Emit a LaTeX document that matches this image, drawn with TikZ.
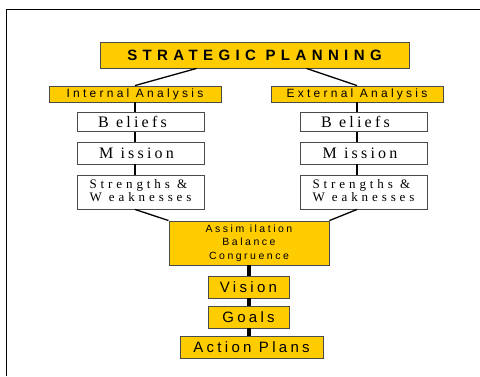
\documentclass[tikz,border=0pt]{standalone}
\usepackage{fontspec}
\setmainfont{Liberation Serif}
\newfontfamily\fsp[LetterSpace=36]{Liberation Sans}
\newfontfamily\fia[LetterSpace=27]{Liberation Sans}
\newfontfamily\fser[LetterSpace=20]{Liberation Serif}
\newfontfamily\fsw[LetterSpace=30]{Liberation Serif}
\newfontfamily\fas[LetterSpace=24]{Liberation Sans}
\newfontfamily\fbig[LetterSpace=22]{Liberation Sans}
\definecolor{ylw}{HTML}{FFCC00}
\definecolor{bord}{HTML}{4A4A4A}
\tikzset{
  ybox/.style={draw=bord, fill=ylw, line width=0.9pt, inner sep=0pt, align=center},
  wbox/.style={draw=bord, fill=white, line width=0.9pt, inner sep=0pt, align=center},
  conn/.style={line width=1.3pt, black},
  thick conn/.style={line width=4pt, black},
  frame/.style={line width=1pt, black},
  spfont/.style={font=\fontsize{15}{17}\selectfont\fsp\bfseries},
  iafont/.style={font=\fontsize{12}{13}\selectfont\fia},
  serfont/.style={font=\fontsize{16}{18}\selectfont\fser},
  swfont/.style={font=\fontsize{13}{15}\selectfont\fsw},
  asfont/.style={font=\fontsize{10.5}{13.5}\selectfont\fas},
  bigfont/.style={font=\fontsize{15}{17}\selectfont\fbig}
}
\begin{document}
\begin{tikzpicture}[x=1pt,y=-1pt]
\useasboundingbox (0,0) rectangle (480,376);
\draw[frame] (6,376) -- (6,9) -- (480,9);
% top
\node[ybox, spfont, minimum width=309pt, minimum height=26pt] (sp) at (254.5,55)
  {STRATEGIC PLANNING};
\node[ybox, iafont, minimum width=172pt, minimum height=16pt] (ia) at (135,94)
  {Internal Analysis};
\node[ybox, iafont, minimum width=172pt, minimum height=16pt] (ea) at (357,94)
  {External Analysis};
% left column
\node[wbox, serfont, minimum width=127pt, minimum height=19pt] (lb) at (140.5,122)
  {B eliefs\hspace*{16pt}};
\node[wbox, serfont, minimum width=127pt, minimum height=22pt] (lm) at (140.5,153)
  {M ission\hspace*{8pt}};
\node[wbox, swfont, minimum width=127pt, minimum height=34pt] (lsw) at (140.5,192)
  {\begin{tabular}{@{}l@{}}Strengths \&\\[-2pt]W eaknesses\end{tabular}};
% right column
\node[wbox, serfont, minimum width=127pt, minimum height=19pt] (rb) at (363.5,122)
  {B eliefs\hspace*{16pt}};
\node[wbox, serfont, minimum width=127pt, minimum height=22pt] (rm) at (363.5,153)
  {M ission\hspace*{7pt}};
\node[wbox, swfont, minimum width=127pt, minimum height=34pt] (rsw) at (363.5,192)
  {\begin{tabular}{@{}l@{}}Strengths \&\\[-2pt]W eaknesses\end{tabular}};
% bottom
\node[ybox, asfont, minimum width=160pt, minimum height=44pt] (as) at (249,243)
  {Assim ilation\\Balance\\Congruence};
\node[ybox, bigfont, minimum width=81pt, minimum height=22pt] (vi) at (248.5,287)
  {Vision};
\node[ybox, bigfont, minimum width=81pt, minimum height=22pt] (go) at (248.5,317)
  {Goals};
\node[ybox, bigfont, minimum width=143pt, minimum height=22pt] (ap) at (251.5,347)
  {Action Plans};
% connectors
\draw[conn] ([xshift=-58pt]sp.south) -- (ia.north);
\draw[conn] ([xshift=52pt]sp.south) -- (ea.north);
\draw[conn] (ia.south) -- (ia.south |- lb.north);
\draw[conn] (ia.south |- lb.south) -- (ia.south |- lm.north);
\draw[conn] (ia.south |- lm.south) -- (ia.south |- lsw.north);
\draw[conn] (ea.south) -- (ea.south |- rb.north);
\draw[conn] (ea.south |- rb.south) -- (ea.south |- rm.north);
\draw[conn] (ea.south |- rm.south) -- (ea.south |- rsw.north);
\draw[conn] (ia.south |- lsw.south) -- (as.north west);
\draw[conn] (ea.south |- rsw.south) -- (as.north east);
\draw[thick conn] (as.south) -- (as.south |- vi.north);
\draw[thick conn] (as.south |- vi.south) -- (as.south |- go.north);
\draw[thick conn] (as.south |- go.south) -- (as.south |- ap.north);
\end{tikzpicture}
\end{document}
